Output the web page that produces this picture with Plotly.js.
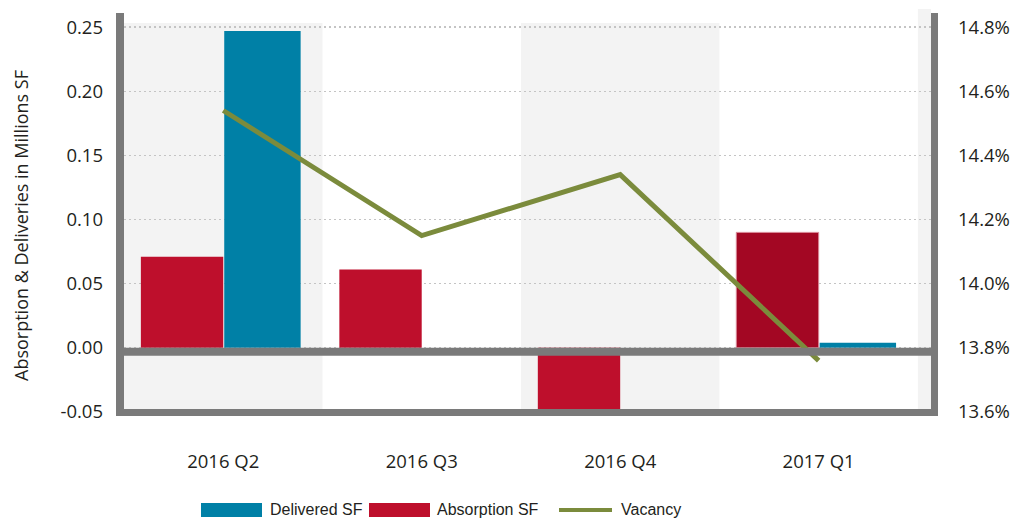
<!DOCTYPE html>
<html><head><meta charset="utf-8">
<script src="https://cdn.plot.ly/plotly-3.0.1.min.js"></script>
<style>html,body{margin:0;padding:0;background:#fff}#chart{width:1020px;height:519px}</style>
</head><body><div id="chart"></div>
<script>
// ---- data ----
const quarters = ['2016 Q2', '2016 Q3', '2016 Q4', '2017 Q1'];
const deliveredSF = [0.247, 0, 0, 0.004];
const absorptionSF = [0.071, 0.061, -0.05, 0.09];
const vacancyPct = [14.54, 14.15, 14.34, 13.76];
const leftTicks = [-0.05, 0, 0.05, 0.10, 0.15, 0.20, 0.25];
const rightTicks = [13.6, 13.8, 14.0, 14.2, 14.4, 14.6, 14.8];
const seriesNames = ['Delivered SF', 'Absorption SF', 'Vacancy'];
const yTitle = 'Absorption & Deliveries in Millions SF';

// ---- styles ----
const BLUE = '#0080A6', RED = '#BE0F2C', DARKRED = '#A30723', GREEN = '#7B8B3C', GREY = '#7A7A7A', BAND = '#F3F3F3';
const TXT = '#231F20';
const FONT = 'Open Sans, Noto Sans, sans-serif';
const W = 1020, H = 519, ML = 124, MR = 89, MT = 13, MB = 107;
const PW = W - ML - MR, PH = H - MT - MB;
const px = x => (x - ML) / PW;
const py = y => (H - MB - y) / PH;

const absorptionColors = absorptionSF.map((v, i) => i === quarters.length - 1 ? DARKRED : RED);
const absorptionLine = absorptionSF.map((v, i) => i === quarters.length - 1 ? '#D98896' : 'rgba(0,0,0,0)');
const absorptionLineW = absorptionSF.map((v, i) => i === quarters.length - 1 ? 1 : 0);

const traces = [
  { type: 'bar', name: seriesNames[1], x: quarters, y: absorptionSF,
    offset: -0.415, width: 0.415,
    marker: { color: absorptionColors, line: { color: absorptionLine, width: absorptionLineW } },
    hoverinfo: 'skip' },
  { type: 'bar', name: seriesNames[0], x: quarters, y: deliveredSF,
    offset: 0.005, width: 0.385,
    marker: { color: BLUE }, hoverinfo: 'skip' },
  { type: 'scatter', mode: 'lines', name: seriesNames[2], x: quarters, y: vacancyPct, yaxis: 'y2',
    line: { color: GREEN, width: 5 }, hoverinfo: 'skip' }
];

const shapes = [];
// alternating background bands
for (let i = 0; i <= quarters.length; i += 2) {
  shapes.push({ type: 'rect', xref: 'x', yref: 'paper', x0: i - 0.5, x1: i + 0.5, y0: 0,
    y1: i < quarters.length ? 0.975 : 1.01, fillcolor: BAND, line: { width: 0 }, layer: 'below' });
}
// zero line
shapes.push({ type: 'rect', xref: 'paper', x0: 0, x1: 1, yref: 'y', ysizemode: 'pixel', yanchor: 0,
  y0: -8, y1: 0, fillcolor: GREY, line: { width: 0 }, layer: 'above' });
// left frame line
shapes.push({ type: 'rect', xref: 'paper', xsizemode: 'pixel', xanchor: 0, x0: -8, x1: 0,
  yref: 'paper', ysizemode: 'pixel', yanchor: 0, y0: -4, y1: PH, fillcolor: GREY, line: { width: 0 }, layer: 'above' });
// right frame line
shapes.push({ type: 'rect', xref: 'paper', xsizemode: 'pixel', xanchor: 1, x0: 0, x1: 7,
  yref: 'paper', ysizemode: 'pixel', yanchor: 0, y0: -4, y1: PH, fillcolor: GREY, line: { width: 0 }, layer: 'above' });
// bottom frame line
shapes.push({ type: 'rect', xref: 'paper', xsizemode: 'pixel', xanchor: 0, x0: -8, x1: PW + 7,
  yref: 'paper', ysizemode: 'pixel', yanchor: 0, y0: 3, y1: -4, fillcolor: GREY, line: { width: 0 }, layer: 'above' });

// custom legend (wide swatches as in the reference)
const legY = 509;
shapes.push({ type: 'rect', xref: 'paper', yref: 'paper', x0: px(201), x1: px(262), y0: py(517), y1: py(503),
  fillcolor: BLUE, line: { width: 0 } });
shapes.push({ type: 'rect', xref: 'paper', yref: 'paper', x0: px(369), x1: px(430), y0: py(517), y1: py(503),
  fillcolor: RED, line: { width: 0 } });
shapes.push({ type: 'line', xref: 'paper', yref: 'paper', x0: px(559), x1: px(612), y0: py(510), y1: py(510),
  line: { color: GREEN, width: 4 } });
const LEGFONT = { family: 'Liberation Sans, Arial, sans-serif', size: 16, color: TXT };
const annotations = [
  { text: seriesNames[0], x: px(268), y: py(legY) },
  { text: seriesNames[1], x: px(435), y: py(legY) },
  { text: seriesNames[2], x: px(619), y: py(legY) }
].map(a => Object.assign(a, { xref: 'paper', yref: 'paper', xanchor: 'left', yanchor: 'middle',
  showarrow: false, font: LEGFONT }));
// left axis title, placed where the reference has it
annotations.push({ text: yTitle, textangle: -90, xref: 'paper', yref: 'paper', x: px(21), y: py(226),
  xanchor: 'center', yanchor: 'middle', showarrow: false, font: { family: FONT, size: 18, color: TXT } });

const layout = {
  width: W, height: H,
  margin: { l: ML, r: MR, t: MT, b: MB, pad: 0 },
  paper_bgcolor: '#fff', plot_bgcolor: '#fff',
  font: { family: FONT, color: TXT, size: 18 },
  showlegend: false,
  barmode: 'overlay',
  xaxis: { type: 'category', categoryarray: quarters, range: [-0.5, 3.566],
    showgrid: false, zeroline: false, showline: false, ticks: '',
    tickfont: { family: FONT, size: 18.5, color: TXT }, ticklabelstandoff: 36, fixedrange: true },
  yaxis: { range: [-0.05, 0.261], tickmode: 'array', tickvals: leftTicks,
    ticktext: leftTicks.map(v => v.toFixed(2)),
    showgrid: true, gridcolor: '#C4C4C4', gridwidth: 1.5, griddash: '2px,3px',
    zeroline: false, showline: false, ticks: '',
    tickfont: { family: FONT, size: 18.5, color: TXT }, ticklabelstandoff: 20,
    fixedrange: true },
  yaxis2: { overlaying: 'y', side: 'right', range: [13.6, 14.844], tickmode: 'array', tickvals: rightTicks,
    ticktext: rightTicks.map(v => v.toFixed(1) + '%'),
    showgrid: false, zeroline: false, showline: false, ticks: '',
    tickfont: { family: FONT, size: 18.5, color: TXT }, ticklabelstandoff: 26, fixedrange: true },
  shapes: shapes,
  annotations: annotations
};

Plotly.newPlot('chart', traces, layout, { displayModeBar: false, staticPlot: true });
</script>
</body></html>
